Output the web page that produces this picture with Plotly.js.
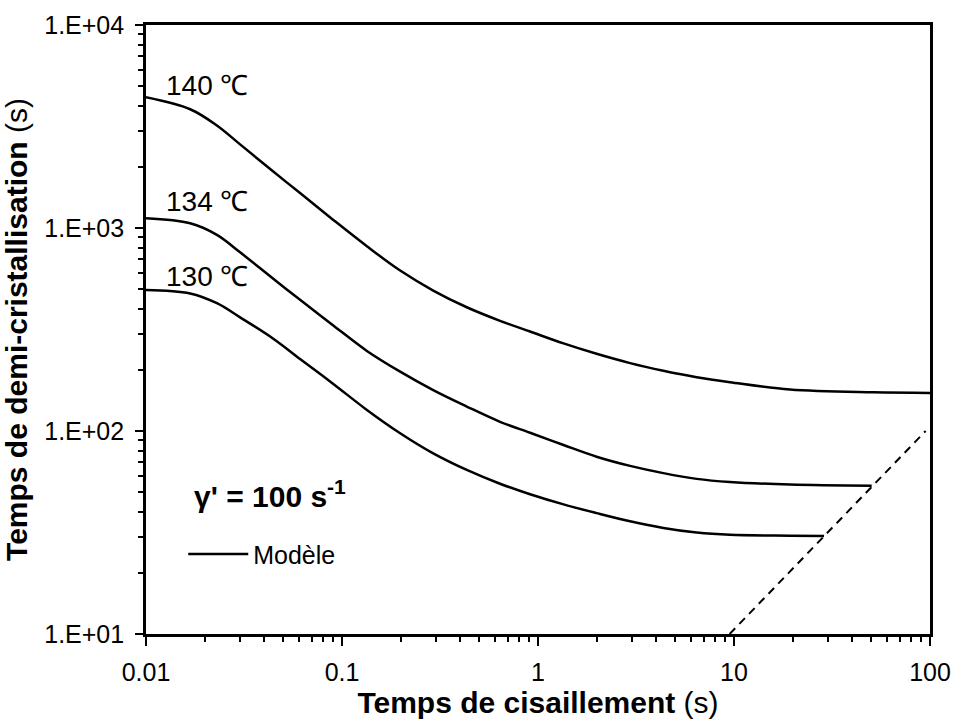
<!DOCTYPE html>
<html>
<head>
<meta charset="utf-8">
<script src="https://cdn.plot.ly/plotly-3.0.1.min.js"></script>
<style>html,body{margin:0;padding:0;background:#fff;}#chart{width:953px;height:719px;}</style>
</head>
<body>
<div id="chart"></div>
<script>
// Shear time (s) and half-crystallisation time (s)
const x140 = [0.01, 0.0168, 0.023, 0.0302, 0.0446, 0.0611, 0.0903, 0.134, 0.198, 0.292, 0.433, 0.64, 0.911, 1.35, 1.99, 2.95, 4.36, 6.45, 9.54, 19.3, 51.4, 100];
const y140 = [4406, 3846, 3199, 2582, 1897, 1486, 1096, 813, 617, 492, 407, 349, 309, 270, 240, 216, 198, 184, 174, 160, 155, 154];

const x134 = [0.01, 0.0168, 0.023, 0.0302, 0.0446, 0.0611, 0.0903, 0.134, 0.198, 0.292, 0.433, 0.64, 0.911, 1.35, 1.99, 2.95, 4.36, 6.45, 9.54, 19.3, 50.4];
const y134 = [1117, 1055, 925, 759, 562, 443, 331, 248, 196, 159, 132, 111, 98, 85.3, 74.7, 67.3, 62.0, 58.1, 56.1, 54.5, 53.8];

const x130 = [0.01, 0.0168, 0.023, 0.0302, 0.0446, 0.0611, 0.0903, 0.134, 0.198, 0.292, 0.433, 0.64, 0.911, 1.35, 1.99, 2.95, 4.36, 6.45, 9.54, 19.3, 28.8];
const y130 = [495, 476, 426, 363, 285, 226.5, 170.6, 127, 97.5, 77.6, 64.3, 55.0, 48.8, 43.5, 39.4, 35.9, 33.3, 31.6, 30.8, 30.5, 30.4];

// Dashed limit line (half-crystallisation time = shear time)
const xLimit = [9.5, 95];
const yLimit = [10, 100];

const curveLabels = ['140 ℃', '134 ℃', '130 ℃'];
const curveLabelY = [5060, 1358, 574];

const xTickVals = [0.01, 0.1, 1, 10, 100];
const xTickText = ['0.01', '0.1', '1', '10', '100'];
const yTickVals = [10, 100, 1000, 10000];
const yTickText = ['1.E+01', '1.E+02', '1.E+03', '1.E+04'];

const FONT = 'Liberation Sans, Arial, sans-serif';
const lineStyle = {color: '#000', width: 2.5, shape: 'spline', smoothing: 1};

const traces = [
  {x: x140, y: y140, mode: 'lines', line: lineStyle, name: 'Modèle', showlegend: true},
  {x: x134, y: y134, mode: 'lines', line: lineStyle, name: '134', showlegend: false},
  {x: x130, y: y130, mode: 'lines', line: lineStyle, name: '130', showlegend: false},
  {x: xLimit, y: yLimit, mode: 'lines', line: {color: '#000', width: 2, dash: '8px,6px'}, showlegend: false, name: 'limite'}
];

const annotations = curveLabels.map((t, i) => ({
  x: Math.log10(0.0123), y: Math.log10(curveLabelY[i]), xref: 'x', yref: 'y',
  text: t, showarrow: false, xanchor: 'left', yanchor: 'middle',
  font: {family: FONT, size: 28, color: '#000'}
}));
annotations.push({
  x: Math.log10(0.0172), y: Math.log10(49), xref: 'x', yref: 'y',
  text: "<b>γ' = 100 s<sup>-1</sup></b>", showarrow: false, xanchor: 'left', yanchor: 'middle',
  font: {family: FONT, size: 30, color: '#000'}
});

const layout = {
  width: 953, height: 719,
  margin: {l: 146, r: 23, t: 25, b: 85},
  paper_bgcolor: '#fff', plot_bgcolor: '#fff',
  font: {family: FONT, color: '#000'},
  showlegend: true,
  legend: {
    x: 0.0475, y: 0.131, xanchor: 'left', yanchor: 'middle',
    bgcolor: 'rgba(0,0,0,0)', borderwidth: 0,
    font: {family: FONT, size: 25, color: '#000'},
    itemwidth: 60
  },
  xaxis: {
    type: 'log', range: [-2, 2],
    tickvals: xTickVals, ticktext: xTickText,
    ticks: 'outside', ticklen: 9, tickwidth: 2.5, tickcolor: '#000',
    minor: {ticks: 'outside', ticklen: 5, tickwidth: 2, tickcolor: '#000', dtick: 'D1', showgrid: false},
    showline: true, linewidth: 2.8, linecolor: '#000', mirror: true,
    showgrid: false, zeroline: false,
    tickfont: {family: FONT, size: 25, color: '#000'},
    ticklabelstandoff: 5,
    title: {text: '<b>Temps de cisaillement</b> (s)', font: {family: FONT, size: 30, color: '#000'}, standoff: 6}
  },
  yaxis: {
    type: 'log', range: [1, 4],
    tickvals: yTickVals, ticktext: yTickText,
    ticks: 'outside', ticklen: 8, tickwidth: 2.5, tickcolor: '#000',
    minor: {ticks: 'outside', ticklen: 5, tickwidth: 2, tickcolor: '#000', dtick: 'D1', showgrid: false},
    showline: true, linewidth: 2.8, linecolor: '#000', mirror: true,
    showgrid: false, zeroline: false,
    tickfont: {family: FONT, size: 25, color: '#000'},
    ticklabelstandoff: 6,
    title: {text: '<b>Temps de demi-cristallisation</b> (s)', font: {family: FONT, size: 30, color: '#000'}, standoff: 10}
  },
  annotations: annotations
};

Plotly.newPlot('chart', traces, layout, {staticPlot: true, displayModeBar: false});
</script>
</body>
</html>
